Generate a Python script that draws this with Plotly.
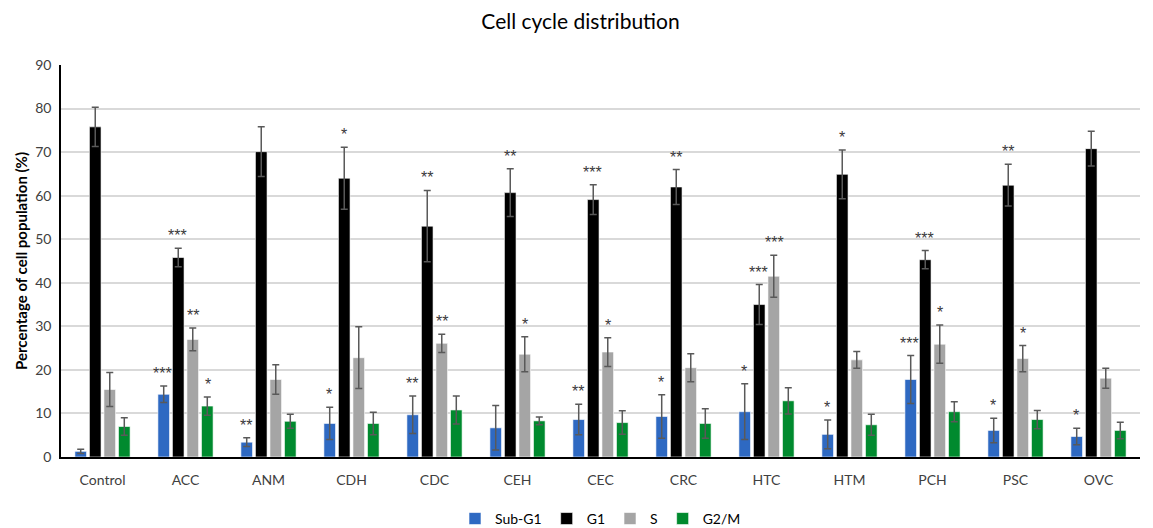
import plotly.graph_objects as go

categories = ["Control", "ACC", "ANM", "CDH", "CDC", "CEH", "CEC", "CRC", "HTC", "HTM", "PCH", "PSC", "OVC"]
series_names = ["Sub-G1", "G1", "S", "G2/M"]

subg1 = [1.3, 14.4, 3.4, 7.7, 9.7, 6.7, 8.6, 9.3, 10.4, 5.2, 17.8, 6.1, 4.7]
subg1_err = [0.5, 1.9, 1.0, 3.7, 4.3, 5.1, 3.5, 5.0, 6.4, 3.3, 5.5, 2.8, 1.9]
g1 = [75.8, 45.8, 70.1, 64.0, 53.0, 60.7, 59.1, 62.0, 35.0, 64.9, 45.3, 62.4, 70.8]
g1_err = [4.5, 2.1, 5.7, 7.1, 8.2, 5.5, 3.4, 4.0, 4.6, 5.6, 2.1, 4.8, 4.0]
s_phase = [15.5, 27.0, 17.8, 22.8, 26.1, 23.6, 24.1, 20.5, 41.5, 22.3, 25.9, 22.6, 18.1]
s_err = [3.9, 2.6, 3.4, 7.1, 2.1, 4.0, 3.3, 3.2, 4.8, 1.9, 4.4, 3.0, 2.3]
g2m = [7.0, 11.7, 8.2, 7.7, 10.8, 8.3, 7.9, 7.7, 12.9, 7.4, 10.4, 8.6, 6.1]
g2m_err = [2.0, 2.1, 1.6, 2.6, 3.2, 0.9, 2.7, 3.4, 3.0, 2.4, 2.3, 2.1, 1.9]

sig_subg1 = ["", "***", "**", "*", "**", "", "**", "*", "*", "*", "***", "*", "*"]
sig_g1 = ["", "***", "", "*", "**", "**", "***", "**", "***", "*", "***", "**", ""]
sig_s = ["", "**", "", "", "**", "*", "*", "", "***", "", "*", "*", ""]
sig_g2m = ["", "*", "", "", "", "", "", "", "", "", "", "", ""]

colors = ["#2E69C2", "#000000", "#A5A5A5", "#008A2E"]
FONT = "Lato, Open Sans, Liberation Sans"

values = [subg1, g1, s_phase, g2m]
errors = [subg1_err, g1_err, s_err, g2m_err]
sigs = [sig_subg1, sig_g1, sig_s, sig_g2m]

fig = go.Figure()
for name, vals, errs, col in zip(series_names, values, errors, colors):
    fig.add_trace(go.Bar(
        name=name, x=categories, y=vals,
        marker=dict(color=col, line=dict(color="#FFFFFF", width=0.6)),
        error_y=dict(type="data", array=errs, visible=True, color="#595959", thickness=1.5, width=3.5),
    ))

# significance stars above error bars
pitch = 15.3
annotations = []
for i, (vals, errs, sg) in enumerate(zip(values, errors, sigs)):
    for cat, v, e, t in zip(categories, vals, errs, sg):
        if t:
            annotations.append(dict(
                x=cat, y=v + e, xref="x", yref="y", text=t, showarrow=False,
                xshift=(i - 1.5) * pitch, yshift=2, yanchor="bottom",
                font=dict(family="Liberation Sans", size=16, color="#3A3A3A"),
            ))

fig.update_layout(
    width=1145, height=520,
    paper_bgcolor="white", plot_bgcolor="white",
    margin=dict(l=53, r=13, t=57, b=71, autoexpand=False),
    title=dict(text="Cell cycle distribution", x=0.5, xanchor="center", y=0.973, yanchor="middle",
               font=dict(family=FONT, size=21, color="#000000")),
    barmode="group", bargap=0.3, bargroupgap=0.2,
    legend=dict(orientation="h", x=0.5, xanchor="center", y=-0.158, yanchor="middle",
                font=dict(family=FONT, size=14, color="#000000"),
                itemwidth=30, traceorder="normal"),
    annotations=annotations,
    showlegend=True,
)
fig.update_yaxes(range=[0, 90], dtick=10, showgrid=True, gridcolor="#D9D9D9", gridwidth=1.5,
                 showline=True, linecolor="#000000", linewidth=1.5, zeroline=False,
                 ticks="", ticklabelstandoff=5,
                 tickfont=dict(family=FONT, size=14, color="#404040"),
                 title=dict(text="<b>Percentage of cell population (%)</b>",
                            font=dict(family=FONT, size=15, color="#000000"),
                            standoff=4))
fig.update_xaxes(showline=True, linecolor="#000000", linewidth=2, ticks="", ticklabelstandoff=9,
                 tickfont=dict(family=FONT, size=14, color="#404040"))

fig.write_html("out.html")
